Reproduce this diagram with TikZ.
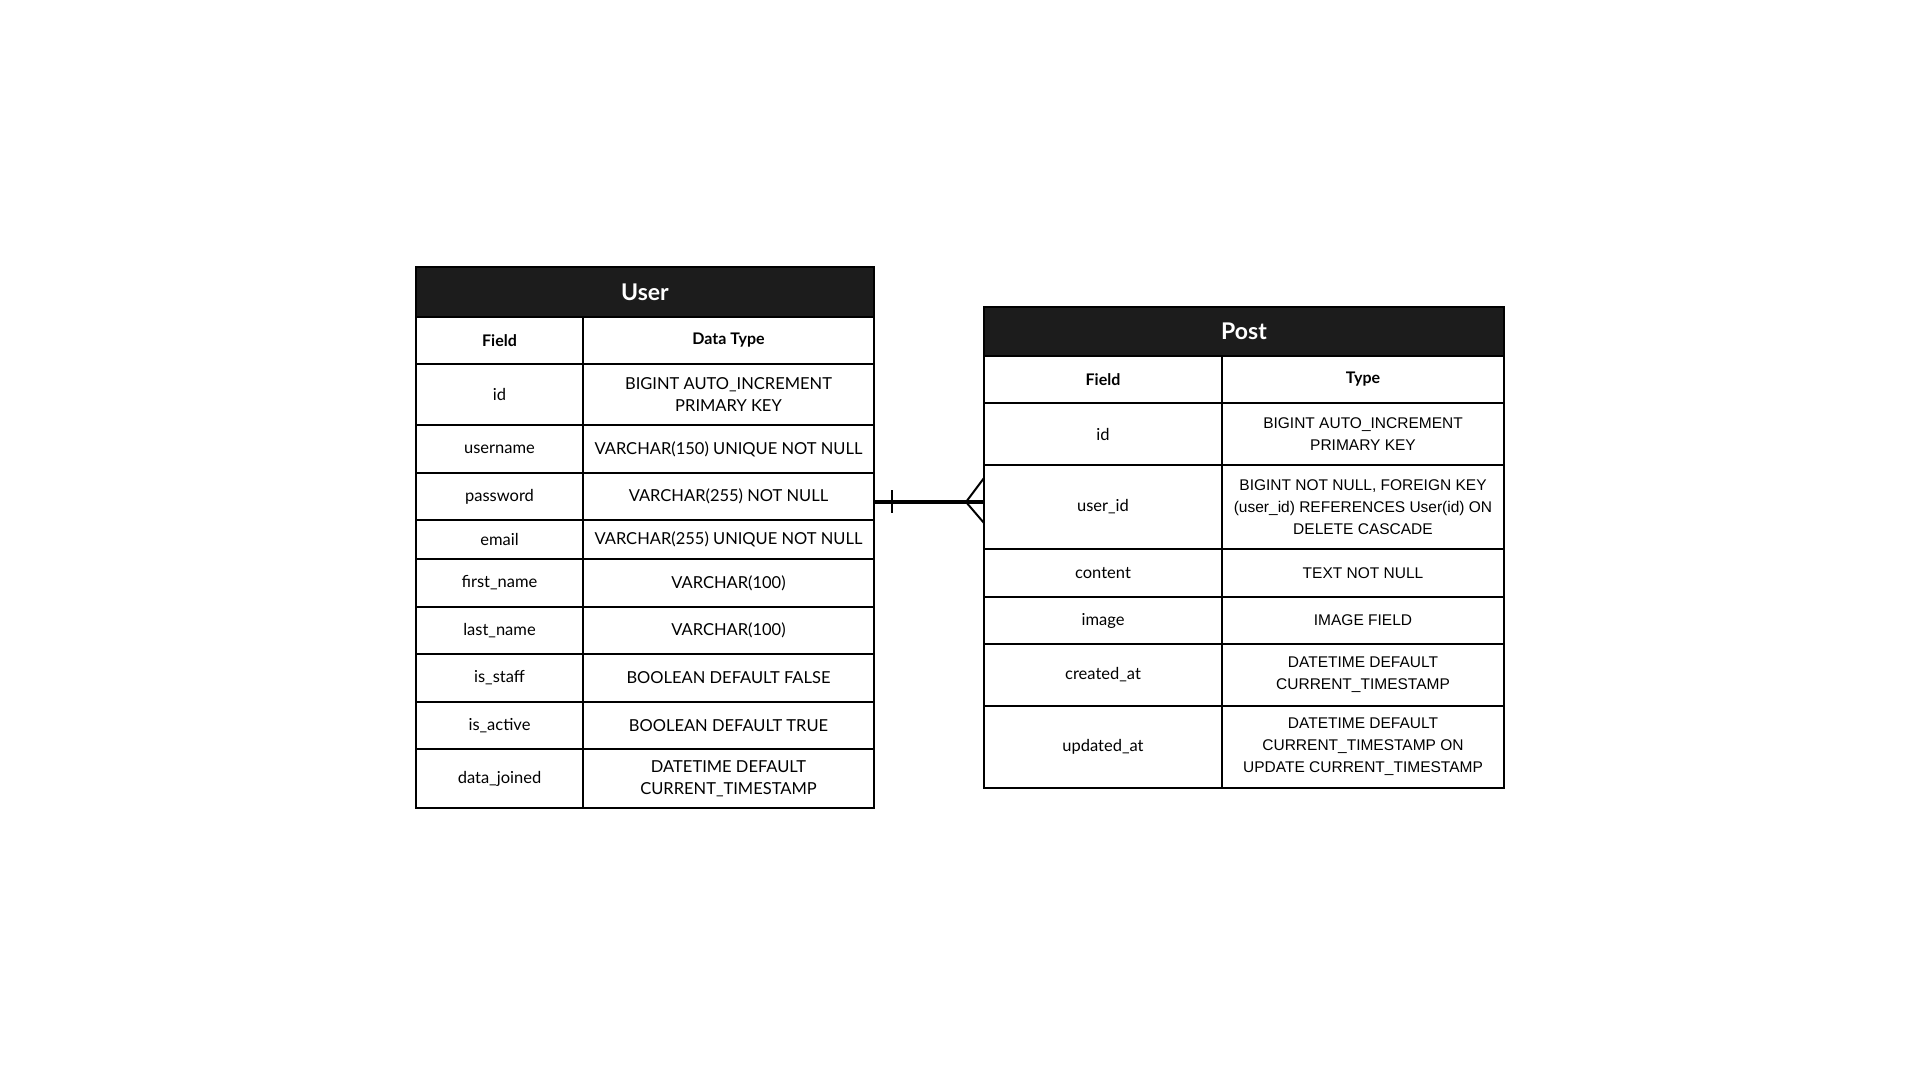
\documentclass[tikz,border=0pt]{standalone}
\usepackage{fontspec}
\setmainfont{Lato}
\newfontfamily\arialfont{Liberation Sans}
\usetikzlibrary{positioning,calc}

\definecolor{headgray}{HTML}{1C1C1C}

\tikzset{
  cell/.style={draw,line width=2pt,inner sep=0pt,outer sep=0pt,align=center,
    font=\fontsize{16.5}{22}\selectfont},
  pcell/.style={cell,font=\arialfont\fontsize{15.5}{22}\selectfont},
  headcell/.style={cell,fill=headgray,text=white,font=\bfseries\fontsize{23}{26}\selectfont},
  colhead/.style={cell,font=\bfseries\fontsize{16}{22}\selectfont},
}

\begin{document}
\begin{tikzpicture}[x=1pt,y=-1pt]
\useasboundingbox[fill=white] (0,0) rectangle (1920,1080);
% User table
\node[headcell,minimum width=458,minimum height=50] (uh) at (645,292) {User};
\node[colhead,minimum width=167,minimum height=47] (uf0) at (499.5,340.5) {Field};
\node[colhead,minimum width=291,minimum height=47] (ut0) at (728.5,340.5) {Data Type};
\node[cell,minimum width=167,minimum height=61] (uf1) at (499.5,394.5) {id};
\node[cell,minimum width=291,minimum height=61] (ut1) at (728.5,394.5) {BIGINT AUTO\_INCREMENT\\PRIMARY KEY};
\node[cell,minimum width=167,minimum height=48] (uf2) at (499.5,449) {username};
\node[cell,minimum width=291,minimum height=48] (ut2) at (728.5,449) {VARCHAR(150) UNIQUE NOT NULL};
\node[cell,minimum width=167,minimum height=47] (uf3) at (499.5,496.5) {password};
\node[cell,minimum width=291,minimum height=47] (ut3) at (728.5,496.5) {VARCHAR(255) NOT NULL};
\node[cell,minimum width=167,minimum height=39] (uf4) at (499.5,539.5) {email};
\node[cell,minimum width=291,minimum height=39] (ut4) at (728.5,539.5) {VARCHAR(255) UNIQUE NOT NULL};
\node[cell,minimum width=167,minimum height=48] (uf5) at (499.5,583) {first\_name};
\node[cell,minimum width=291,minimum height=48] (ut5) at (728.5,583) {VARCHAR(100)};
\node[cell,minimum width=167,minimum height=47] (uf6) at (499.5,630.5) {last\_name};
\node[cell,minimum width=291,minimum height=47] (ut6) at (728.5,630.5) {VARCHAR(100)};
\node[cell,minimum width=167,minimum height=48] (uf7) at (499.5,678) {is\_staff};
\node[cell,minimum width=291,minimum height=48] (ut7) at (728.5,678) {BOOLEAN DEFAULT FALSE};
\node[cell,minimum width=167,minimum height=47] (uf8) at (499.5,725.5) {is\_active};
\node[cell,minimum width=291,minimum height=47] (ut8) at (728.5,725.5) {BOOLEAN DEFAULT TRUE};
\node[cell,minimum width=167,minimum height=59] (uf9) at (499.5,778.5) {data\_joined};
\node[cell,minimum width=291,minimum height=59] (ut9) at (728.5,778.5) {DATETIME DEFAULT\\CURRENT\_TIMESTAMP};
%
% Post table
\node[headcell,minimum width=520,minimum height=49] (ph) at (1244,331.5) {Post};
\node[colhead,minimum width=238,minimum height=47] (pf0) at (1103,379.5) {Field};
\node[colhead,minimum width=282,minimum height=47] (pt0) at (1363,379.5) {Type};
\node[cell,minimum width=238,minimum height=62] (pf1) at (1103,434) {id};
\node[pcell,minimum width=282,minimum height=62] (pt1) at (1363,434) {BIGINT AUTO\_INCREMENT\\PRIMARY KEY};
\node[cell,minimum width=238,minimum height=84] (pf2) at (1103,507) {user\_id};
\node[pcell,minimum width=282,minimum height=84] (pt2) at (1363,507) {BIGINT NOT NULL, FOREIGN KEY\\(user\_id) REFERENCES User(id) ON\\DELETE CASCADE};
\node[cell,minimum width=238,minimum height=48] (pf3) at (1103,573) {content};
\node[pcell,minimum width=282,minimum height=48] (pt3) at (1363,573) {TEXT NOT NULL};
\node[cell,minimum width=238,minimum height=47] (pf4) at (1103,620.5) {image};
\node[pcell,minimum width=282,minimum height=47] (pt4) at (1363,620.5) {IMAGE FIELD};
\node[cell,minimum width=238,minimum height=62] (pf5) at (1103,675) {created\_at};
\node[pcell,minimum width=282,minimum height=62] (pt5) at (1363,675) {DATETIME DEFAULT\\CURRENT\_TIMESTAMP};
\node[cell,minimum width=238,minimum height=82] (pf6) at (1103,747) {updated\_at};
\node[pcell,minimum width=282,minimum height=82] (pt6) at (1363,747) {DATETIME DEFAULT\\CURRENT\_TIMESTAMP ON\\UPDATE CURRENT\_TIMESTAMP};
%%
% one-to-many link
\coordinate (l1) at ([yshift=-5.5pt]ut3.east);
\coordinate (l2) at (l1 -| pf2.west);
\draw[line width=4pt] (l1) -- (l2);
\draw[line width=2pt] ($(l1)+(18,-12)$) -- ($(l1)+(18,11)$);
\draw[line width=2pt] ($(l2)+(0,-24)$) -- ($(l2)+(-18,0)$) -- ($(l2)+(0,21)$);
\end{tikzpicture}
\end{document}
